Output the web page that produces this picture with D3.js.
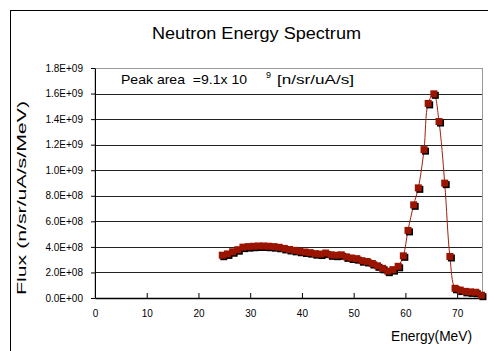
<!DOCTYPE html>
<html>
<head>
<meta charset="utf-8">
<script src="https://cdn.jsdelivr.net/npm/d3@7"></script>
<style>
  body { margin: 0; background: #fff; }
  text { font-family: "Liberation Sans", Arial, sans-serif; fill: #000; }
</style>
</head>
<body>
<div id="chart"></div>
<script>
// Energy (MeV) of each measured point
var energy = [24.6, 25.6, 26.6, 27.6, 28.6, 29.6, 30.6, 31.6, 32.6, 33.6,
              34.6, 35.6, 36.6, 37.6, 38.6, 39.6, 40.6, 41.6, 42.6, 43.6,
              44.6, 45.6, 46.6, 47.6, 48.6, 49.6, 50.6, 51.6, 52.6, 53.6,
              54.6, 55.6, 56.6, 57.6, 58.6, 59.6, 60.5, 61.6, 62.5, 63.6,
              64.4, 65.5, 66.5, 67.6, 68.6, 69.6, 70.6, 71.6, 72.6, 73.6, 74.7];
// Flux (n/sr/uA/s/MeV)
var flux = [3.35e8, 3.45e8, 3.62e8, 3.78e8, 3.98e8, 4.02e8, 4.05e8, 4.07e8, 4.07e8, 4.05e8,
            4.02e8, 3.97e8, 3.88e8, 3.80e8, 3.73e8, 3.66e8, 3.60e8, 3.55e8, 3.47e8, 3.44e8,
            3.52e8, 3.38e8, 3.35e8, 3.38e8, 3.22e8, 3.13e8, 3.08e8, 2.92e8, 2.86e8, 2.70e8,
            2.52e8, 2.32e8, 2.10e8, 2.22e8, 2.48e8, 3.30e8, 5.29e8, 7.29e8, 8.62e8, 11.61e8,
            15.23e8, 15.98e8, 13.81e8, 8.99e8, 3.25e8, 0.76e8, 0.62e8, 0.52e8, 0.48e8, 0.45e8, 0.22e8];
var xTicks = [0, 10, 20, 30, 40, 50, 60, 70];
var yTicks = [0, 2e8, 4e8, 6e8, 8e8, 1.0e9, 1.2e9, 1.4e9, 1.6e9, 1.8e9];

var W = 488, H = 351;
var margin = {top: 68, right: 5, bottom: 53, left: 95};
var width = W - margin.left - margin.right,
    height = H - margin.top - margin.bottom;

var data = energy.map(function(e, i) { return {e: e, f: flux[i]}; });

var svg = d3.select('#chart').append('svg')
    .attr('width', W)
    .attr('height', H);

// Chart border (runs off the right and bottom)
svg.append('rect')
    .attr('x', 10.5).attr('y', 10.5)
    .attr('width', 600).attr('height', 500)
    .attr('fill', 'none').attr('stroke', '#000');

// Title
svg.append('text')
    .attr('x', 152).attr('y', 39)
    .attr('textLength', 209).attr('lengthAdjust', 'spacingAndGlyphs')
    .style('font-size', '16px')
    .text('Neutron Energy Spectrum');

var chart = svg.append('g')
    .attr('transform', 'translate(' + margin.left + ',' + margin.top + ')');

var x = d3.scaleLinear().domain([0, 75]).range([0, width]);
var y = d3.scaleLinear().domain([0, 1.8e9]).range([height, 0]);

// Plot area frame
chart.append('rect')
    .attr('x', 0).attr('y', 0.5)
    .attr('width', width - 0.5).attr('height', height)
    .attr('fill', 'none').attr('stroke', '#999');

// Gridlines
chart.append('g').selectAll('line')
    .data(yTicks.filter(function(d) { return d > 0 && d < 1.8e9; }))
    .enter().append('line')
    .attr('x1', 0).attr('x2', width - 1)
    .attr('y1', function(d) { return Math.round(y(d)) + 0.5; })
    .attr('y2', function(d) { return Math.round(y(d)) + 0.5; })
    .attr('stroke', '#222');

// Axes
var yAxis = d3.axisLeft(y).tickValues(yTicks).tickSize(4).tickSizeOuter(0)
    .tickFormat(function(d) {
        var parts = d.toExponential(1).toUpperCase().split('E+');
        return parts[0] + 'E+' + (parts[1].length < 2 ? '0' + parts[1] : parts[1]);
    });
var xAxis = d3.axisBottom(x).tickValues(xTicks).tickSize(-5).tickSizeOuter(0)
    .tickFormat(d3.format('d'));

var gy = chart.append('g').call(yAxis);
gy.selectAll('text').style('font-size', '10px').attr('x', -12);
gy.select('.domain').attr('stroke', '#000');

var gx = chart.append('g')
    .attr('transform', 'translate(0,' + height + ')')
    .call(xAxis);
gx.selectAll('text').style('font-size', '10px').attr('y', 12);
gx.select('.domain').attr('stroke', '#000').attr('stroke-width', 1.5);

// Smoothed line
var line = d3.line()
    .curve(d3.curveCatmullRom.alpha(0.5))
    .x(function(d) { return x(d.e); })
    .y(function(d) { return y(d.f); });

chart.append('path')
    .attr('d', line(data))
    .attr('fill', 'none')
    .attr('stroke', '#a02010')
    .attr('stroke-width', 1);

// Markers with shadow
var ms = 7;
chart.append('g').selectAll('rect')
    .data(data).enter().append('rect')
    .attr('x', function(d) { return x(d.e) - ms / 2 + 1.5; })
    .attr('y', function(d) { return y(d.f) - ms / 2 + 1.5; })
    .attr('width', ms).attr('height', ms)
    .attr('fill', '#000');
chart.append('g').selectAll('rect')
    .data(data).enter().append('rect')
    .attr('x', function(d) { return x(d.e) - ms / 2; })
    .attr('y', function(d) { return y(d.f) - ms / 2; })
    .attr('width', ms).attr('height', ms)
    .attr('fill', '#9a1400');

// Peak area note
var note = svg.append('text')
    .attr('y', 84)
    .style('font-size', '13px')
    .style('white-space', 'pre');
note.append('tspan').attr('x', 121)
    .attr('textLength', 126).attr('lengthAdjust', 'spacingAndGlyphs')
    .text('Peak area  =9.1x 10');
note.append('tspan').attr('x', 266).attr('dy', -6).style('font-size', '9px').text('9');
note.append('tspan').attr('x', 277).attr('dy', 6)
    .attr('textLength', 77).attr('lengthAdjust', 'spacingAndGlyphs')
    .text('[n/sr/uA/s]');

// Axis labels
svg.append('text')
    .attr('transform', 'translate(26,198) rotate(-90)')
    .attr('text-anchor', 'middle')
    .attr('textLength', 194).attr('lengthAdjust', 'spacingAndGlyphs')
    .style('font-size', '13px')
    .text('Flux (n/sr/uA/s/MeV)');

svg.append('text')
    .attr('x', 391).attr('y', 341)
    .attr('textLength', 81).attr('lengthAdjust', 'spacingAndGlyphs')
    .style('font-size', '14px')
    .text('Energy(MeV)');
</script>
</body>
</html>
